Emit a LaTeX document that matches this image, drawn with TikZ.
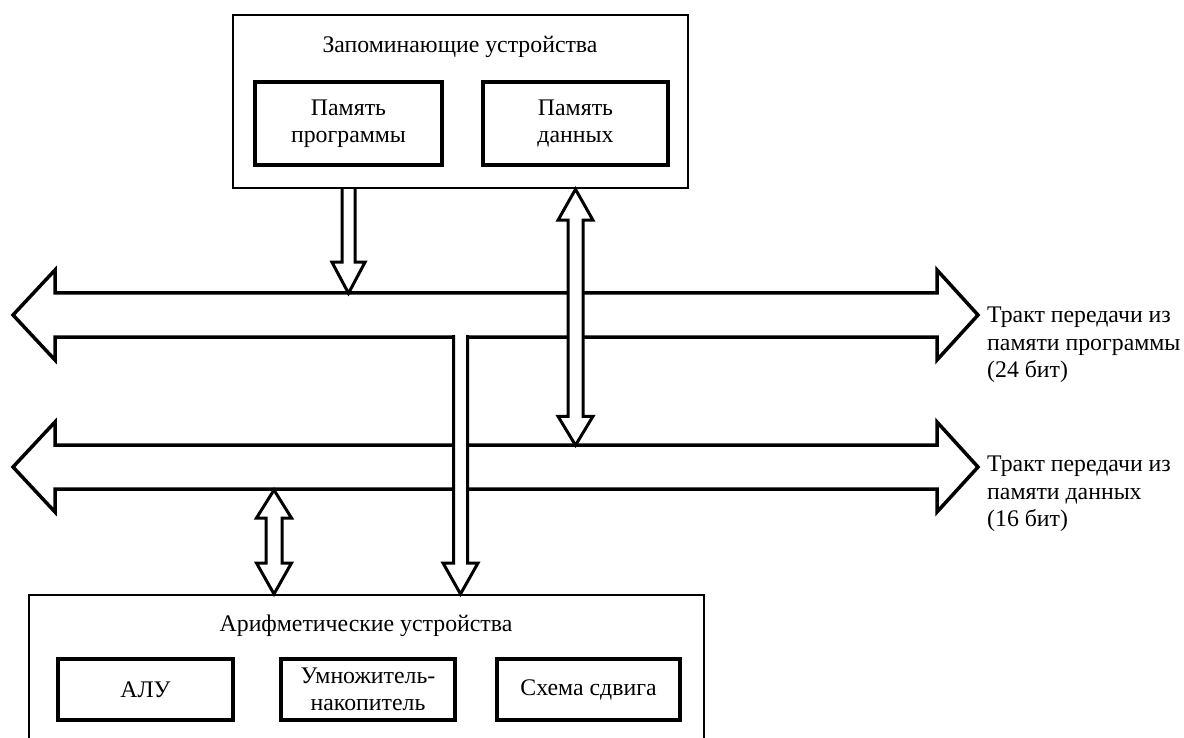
\documentclass[tikz,border=0pt]{standalone}
\usepackage{fontspec}
\setmainfont{Liberation Serif}

\tikzset{
  unit/.style={draw, line width=2.5pt, inner sep=0pt},
  block/.style={draw, line width=3.5pt, inner sep=0pt, align=center},
  bus/.style={draw, line width=3.5pt, line join=miter, fill=white},
  fat/.style={draw, line width=3pt, line join=miter, fill=white},
  buslabel/.style={anchor=west, align=left, inner sep=0pt},
}

\begin{document}
\begin{tikzpicture}[x=1pt, y=-1pt, font=\fontsize{23.8}{27.5}\selectfont]
\useasboundingbox (0,0) rectangle (1184,738);
\clip (0,0) rectangle (1184,738);

% memories
\node[unit, minimum width=455, minimum height=173] (mem) at (460.5,101.5) {};
\node (memtitle) at (460,47) {Запоминающие устройства};
\node[block, minimum width=187, minimum height=83] (progmem) at (348.5,123.5) {Память\\программы};
\node[block, minimum width=185, minimum height=83] (datamem) at (575.5,123.5) {Память\\данных};

% arithmetic units, box runs off the page
\node[unit, minimum width=675, minimum height=180] (arith) at (366.5,685) {};
\node (arithtitle) at (366,626) {Арифметические устройства};
\node[block, minimum width=175, minimum height=61] (alu) at (145.5,689.5) {АЛУ};
\node[block, minimum width=174, minimum height=61] (mac) at (368,689.5) {Умножитель-\\накопитель};
\node[block, minimum width=183, minimum height=61] (shifter) at (588.5,689.5) {Схема сдвига};
\coordinate (aluport) at (274,594);

% the two buses
\coordinate (progbus) at (495.5,315);
\coordinate (databus) at (495.5,467);
\draw[bus] (progbus) ++(-482.5,0) -- ++(42,-45) -- ++(0,23) -- ++(882,0) -- ++(0,-23) -- ++(41,45)
  -- ++(-41,45) -- ++(0,-23) -- ++(-882,0) -- ++(0,23) -- cycle;
\draw[bus] (databus) ++(-482.5,0) -- ++(42,-45) -- ++(0,23) -- ++(882,0) -- ++(0,-23) -- ++(41,45)
  -- ++(-41,45) -- ++(0,-23) -- ++(-882,0) -- ++(0,23) -- cycle;
\node[buslabel] (proglabel) at (987,345) {Тракт передачи из\\памяти программы\\(24 бит)};
\node[buslabel] (datalabel) at (987,494) {Тракт передачи из\\памяти данных\\(16 бит)};

% program memory -> program bus
\draw[fat] (progmem.south |- mem.south) ++(-6.5,0) -- ++(0,73) -- ++(-10,0) -- ++(16.5,31)
  -- ++(16.5,-31) -- ++(-10,0) -- ++(0,-73);
% data memory <-> data bus
\draw[fat] (datamem.south |- mem.south) -- ++(17.5,31) -- ++(-10,0) -- ++(0,196) -- ++(10,0)
  -- ++(-17.5,29) -- ++(-17.5,-29) -- ++(10,0) -- ++(0,-196) -- ++(-10,0) -- cycle;
% program bus -> arithmetic units
\draw[fat] (mem.south |- progbus) ++(-7,20) -- ++(0,228) -- ++(-10.5,0) -- ++(17.5,31)
  -- ++(17.5,-31) -- ++(-10.5,0) -- ++(0,-228);
% data bus <-> arithmetic units
\draw[fat] (aluport) -- ++(-17.5,-31) -- ++(9.5,0) -- ++(0,-45) -- ++(-9.5,0) -- ++(17.5,-28)
  -- ++(17.5,28) -- ++(-9.5,0) -- ++(0,45) -- ++(9.5,0) -- cycle;
\end{tikzpicture}
\end{document}
